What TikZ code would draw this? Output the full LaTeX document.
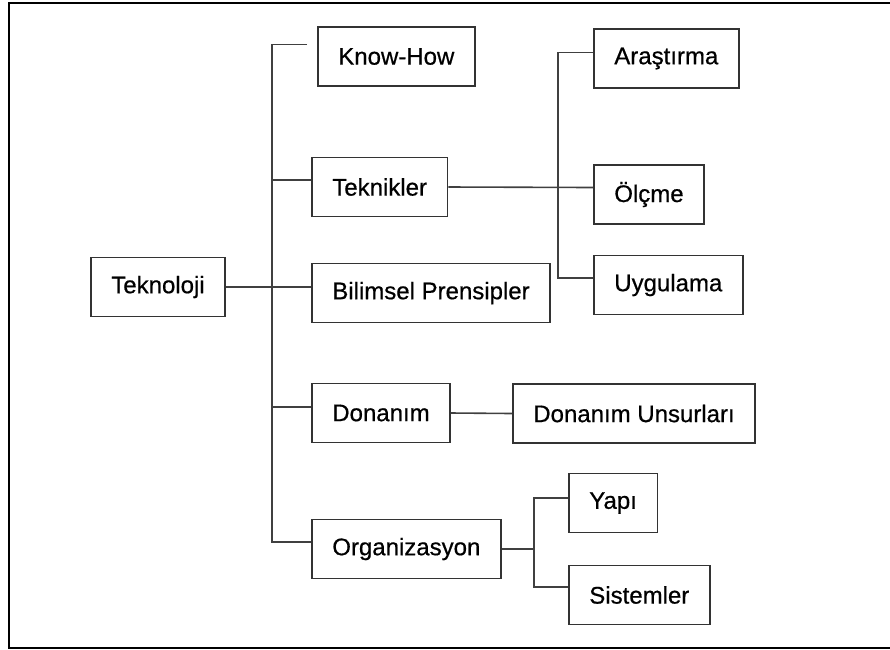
\documentclass[tikz,border=0pt]{standalone}
\usepackage{fontspec}
\setmainfont{Liberation Sans}
\newfontfamily\boxfont{Liberation Sans}[FakeBold=0.6]
\usetikzlibrary{positioning}

\tikzset{
    box/.style={draw=black!80, line width=1.6pt, anchor=west, minimum height=59pt,
        inner xsep=20.5pt, font=\boxfont\fontsize{24}{26}\selectfont},
    link/.style={draw=black!75, line width=1.6pt}
}

\begin{document}
\begin{tikzpicture}[x=1pt, y=-1pt]
    \useasboundingbox (0,0) rectangle (890,649);
    % Frame (open on the right)
    \draw[line width=2.5pt] (890,3) -- (9,3) -- (9,648) -- (890,648);

    % Main boxes
    \node[box] (tekno) at (90,287) {Teknoloji};
    \node[box] (know) at (317,56.5) {Know-How};
    \node[box] (tekn) at (311,187) {Teknikler};
    \node[box] (bilim) at (311,293) {Bilimsel Prensipler};
    \node[box] (don) at (311,413) {Donanım};
    \node[box] (org) at (311,549) {Organizasyon};

    % Sub boxes
    \node[box] (ara) at (593,58.5) {Araştırma};
    \node[box] (olc) at (593,194.5) {Ölçme};
    \node[box] (uyg) at (593,285) {Uygulama};
    \node[box] (donu) at (512,413.5) {Donanım Unsurları};
    \node[box] (yapi) at (568,503) {Yapı};
    \node[box] (sis) at (568,595) {Sistemler};

    % Fork points
    \coordinate (trunk) at (272,0);
    \coordinate (orgfork) at (534,0);

    % Trunk
    \draw[link] ([xshift=-10pt,yshift=12pt]know.west) -- ++(-35,0) |- ([yshift=7pt]org.west);
    \draw[link] ([yshift=7pt]tekn.west) -- ++(-39,0);
    \draw[link] ([yshift=6pt]don.west) -- ++(-39,0);
    \draw[link] (tekno.east) -- ([yshift=6pt]bilim.west);

    % Teknikler branch
    \draw[link] ([yshift=6pt]ara.west) -- ++(-35,0) |- ([yshift=7pt]uyg.west);
    \draw[link] (tekn.east) -- ([yshift=7pt]olc.west);

    % Donanim branch
    \draw[link] (don.east) -- (donu.west);

    % Organizasyon branch
    \draw[link] ([yshift=5pt]yapi.west) -- ++(-34,0) |- ([yshift=8pt]sis.west);
    \draw[link] (org.east) -- (org.east -| orgfork);
\end{tikzpicture}
\end{document}
